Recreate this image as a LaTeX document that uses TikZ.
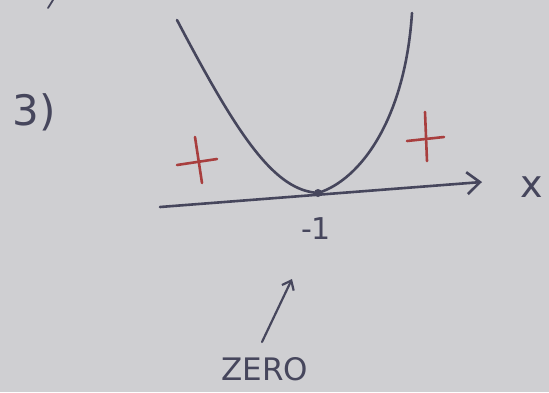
\documentclass[tikz,border=0pt]{standalone}
\usepackage{fontspec}
\setmainfont{DejaVu Sans}
\usetikzlibrary{arrows.meta}
\definecolor{paper}{RGB}{207,207,210}
\definecolor{pen}{RGB}{70,70,92}
\definecolor{redpen}{RGB}{168,62,62}
\tikzset{
  ink/.style={draw=pen, line width=2.6pt, line cap=round, line join=round},
  redink/.style={draw=redpen, line width=2.6pt, line cap=round},
  hand/.style={text=pen, inner sep=0pt, font=\fontsize{#1}{#1}\selectfont},
}
\begin{document}
\begin{tikzpicture}[x=1pt,y=-1pt]
\fill[paper] (0,0) rectangle (549,392);
\useasboundingbox (0,0) rectangle (549,392);

% previous item's stroke at top
\coordinate (ts) at (48,8);
\coordinate (te) at (53,0);
\draw[ink, line width=1.8pt] (ts) -- (te);

% label 3)
\node[hand=42] (num) at (34,112) {3)};

% axis
\coordinate (axL) at (160,207);
\coordinate (axR) at (482,182);
\draw[ink, -{Straight Barb[length=13pt,width=22pt,line width=2.6pt]}] (axL) -- (axR);
\node[hand=38] (xl) at (532,187) {x};

% parabola
\coordinate (pL) at (177,20);
\coordinate (vtx) at (318,193);
\coordinate (pR) at (412,13);
\draw[ink] (pL) .. controls (240,140) and (275,190) .. (vtx)
           .. controls (360,180) and (405,120) .. (pR);
\fill[pen] (vtx) circle (4pt);

% red plus signs
\draw[redink] (177,165) -- (217,159);
\draw[redink] (195,137) -- (202,183);
\draw[redink] (407,141) -- (444,137);
\draw[redink] (425,112) -- (427,161);

% -1 label
\node[hand=30] (m1) at (316,229) {-1};

% ZERO with arrow
\node[hand=31] (zero) at (265,369) {ZERO};
\coordinate (za) at (262,342);
\coordinate (zb) at (292,279);
\draw[ink, line width=2.2pt, -{Straight Barb[length=8pt,width=13pt,line width=2.2pt]}] (za) -- (zb);
\end{tikzpicture}
\end{document}
